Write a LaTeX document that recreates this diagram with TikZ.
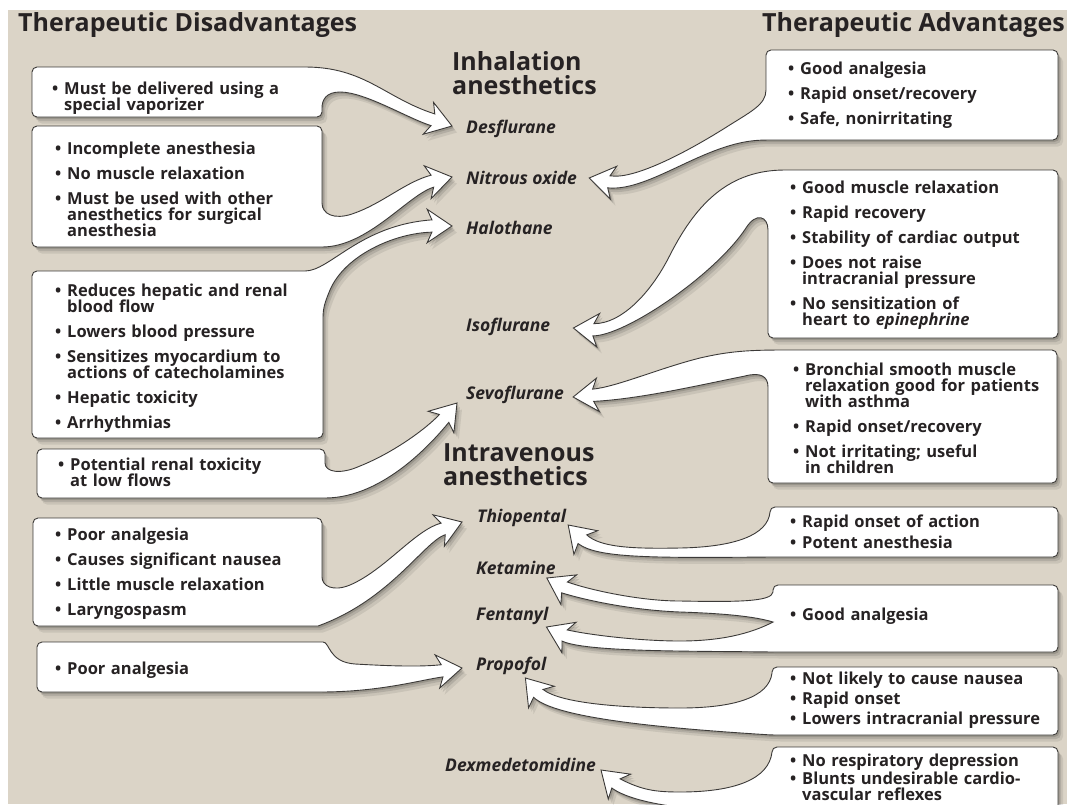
\documentclass[tikz,border=0pt]{standalone}
\usepackage{fontspec}
\setmainfont{Open Sans}
\usetikzlibrary{calc}
\definecolor{beige}{RGB}{219,212,199}
\definecolor{ink}{RGB}{38,34,35}
\definecolor{rim}{RGB}{60,58,56}
\newcommand\boxfont{\fontsize{16.5}{16}\selectfont\bfseries\lineskiplimit=-20pt}
\newcommand\drugfont{\fontsize{17.5}{18}\selectfont\bfseries\itshape}
\newcommand\itm[1]{\par\hangindent=12pt\hangafter=1\noindent\makebox[12pt][l]{\textbullet}#1\par}
\pgfdeclarelayer{back}
\pgfdeclarelayer{panels}
\pgfsetlayers{back,panels,main}

\begin{document}
\begin{tikzpicture}[x=1pt, y=-1pt,
  dis/.style={anchor=west, text width=280pt, align=left, inner sep=0pt, font=\boxfont, text=ink, gap=9pt},
  gap/.style={execute at begin node={\setlength{\parskip}{#1}}},
  drug/.style={anchor=west, inner sep=0pt, font=\drugfont, text=ink},
  coltitle/.style={inner sep=0pt, font=\fontsize{25}{28}\selectfont\bfseries, text=ink},
  grouptitle/.style={anchor=west, align=left, inner sep=0pt, font=\fontsize{25}{24}\selectfont\bfseries, text=ink},
  panel/.style={fill=white, draw=rim, line width=0.9pt,
    preaction={fill=black, opacity=.14, transform canvas={shift={(1.5pt,-2pt)}}},
    preaction={fill=black, opacity=.11, transform canvas={shift={(3pt,-4pt)}}},
    preaction={fill=black, opacity=.08, transform canvas={shift={(5pt,-6.5pt)}}}},
  fathead/.style 2 args={insert path={-- ($(#1)+({#2+214}:30)$) -- (#1) -- ($(#1)+({#2+146}:30)$) -- ($(#1)+({#2+163}:21)$)}}
]
\useasboundingbox (0,0) rectangle (1067,804);
\begin{pgfonlayer}{back}
  \fill[beige] (0,0) rectangle (1067,804);
  \fill[white] (0,0) rectangle (1067,10);
  \fill[white] (0,10) rectangle (8,804);
\end{pgfonlayer}

% headings
\node[coltitle, anchor=west] (hdis) at (18,25) {Therapeutic Disadvantages};
\node[coltitle, anchor=east] (hadv) at (1065,25) {Therapeutic Advantages};
\node[grouptitle] (inh) at (452,73.5) {Inhalation\\anesthetics};
\node[grouptitle] (intra) at (443,465) {Intravenous\\anesthetics};

% drugs
\node[drug] (des) at (466,129) {Desflurane};
\node[drug] (nit) at (466,178) {Nitrous oxide};
\node[drug] (hal) at (466,228) {Halothane};
\node[drug] (iso) at (466,327) {Isoflurane};
\node[drug] (sev) at (466,395) {Sevoflurane};
\node[drug] (thio) at (477,518) {Thiopental};
\node[drug] (ket) at (476,568) {Ketamine};
\node[drug] (fen) at (476,616) {Fentanyl};
\node[drug] (prop) at (476,666) {Propofol};
\node[drug] (dex) at (445,765) {Dexmedetomidine};

% disadvantages
\node[dis] (d1) at (52,91.5) {\itm{Must be delivered using a\newline special vaporizer}};
\node[dis] (d2) at (55,183) {\itm{Incomplete anesthesia}\itm{No muscle relaxation}\itm{Must be used with other\newline anesthetics for surgical\newline anesthesia}};
\node[dis] (d3) at (55,352) {\itm{Reduces hepatic and renal\newline blood flow}\itm{Lowers blood pressure}\itm{Sensitizes myocardium to\newline actions of catecholamines}\itm{Hepatic toxicity}\itm{Arrhythmias}};
\node[dis] (d4) at (58,466) {\itm{Potential renal toxicity\newline at low flows}};
\node[dis] (d5) at (55,567) {\itm{Poor analgesia}\itm{Causes significant nausea}\itm{Little muscle relaxation}\itm{Laryngospasm}};
\node[dis] (d6) at (55,664) {\itm{Poor analgesia}};

% advantages
\node[dis] (a1) at (788,89) {\itm{Good analgesia}\itm{Rapid onset/recovery}\itm{Safe, nonirritating}};
\node[dis] (a2) at (790,249) {\itm{Good muscle relaxation}\itm{Rapid recovery}\itm{Stability of cardiac output}\itm{Does not raise\newline intracranial pressure}\itm{No sensitization of\newline heart to \textit{epinephrine}}};
\node[dis] (a3) at (793,412) {\itm{Bronchial smooth muscle\newline relaxation good for patients\newline with asthma}\itm{Rapid onset/recovery}\itm{Not irritating; useful\newline in children}};
\node[dis, gap=5pt] (a4) at (790,528) {\itm{Rapid onset of action}\itm{Potent anesthesia}};
\node[dis] (a5) at (790,610) {\itm{Good analgesia}};
\node[dis, gap=4pt] (a6) at (790,696.5) {\itm{Not likely to cause nausea}\itm{Rapid onset}\itm{Lowers intracranial pressure}};
\node[dis, gap=1.5pt] (a7) at (790,775) {\itm{No respiratory depression}\itm{Blunts undesirable cardio-\newline vascular reflexes}};

% arrow tips
\coordinate (tDes) at ($(des.west)+(-14,-3)$);
\coordinate (tNitL) at ($(nit.west)+(-14,-1)$);
\coordinate (tHal) at ($(hal.west)+(-14,-2)$);
\coordinate (tSevL) at ($(sev.west)+(-9,8)$);
\coordinate (tThioL) at ($(thio.west)+(-15,4)$);
\coordinate (tPropL) at ($(prop.west)+(-14,2)$);
\coordinate (tNitR) at ($(nit.east)+(12,0)$);
\coordinate (tIso) at ($(iso.east)+(23,1)$);
\coordinate (tSevR) at ($(sev.east)+(9,2)$);
\coordinate (tThioR) at ($(thio.east)+(2,7)$);
\coordinate (tKet) at ($(ket.east)+(-9,10)$);
\coordinate (tFen) at ($(fen.east)+(-2,11)$);
\coordinate (tPropR) at ($(prop.east)+(-21,12)$);
\coordinate (tDex) at ($(dex.east)+(5,5)$);

\begin{pgfonlayer}{panels}
% left panels
\draw[panel] (32,92) [rounded corners=5pt] |- (300,67) [sharp corners] .. controls (365,67) and (385,98) .. ($(tDes)+(215:21)$) [fathead={tDes}{18}] .. controls (407,118) and (365,92) .. (340,92) .. controls (326,92) and (322,100) .. (322,108) [rounded corners=5pt] |- (32,117) -- cycle;
\draw[panel] (32,186) [rounded corners=5pt] |- (322,126) -- (322,198) [sharp corners] .. controls (322,214) and (334,220) .. (352,214) .. controls (382,204) and (405,182) .. ($(tNitL)+(185:21)$) [fathead={tNitL}{-12}] .. controls (408,195) and (368,247) .. (322,247) [rounded corners=5pt] -- (32,247) -- cycle;
\draw[panel] (32,350) [rounded corners=5pt] |- (300,271) [sharp corners] .. controls (330,271) and (360,225) .. ($(tHal)+(197:21)$) [fathead={tHal}{0}] .. controls (395,233) and (345,255) .. (330,290) .. controls (325,302) and (323,308) .. (323,318) [rounded corners=5pt] |- (32,438) -- cycle;
\draw[panel] (37,473) [rounded corners=5pt] |- (325,449) -- (325,458) [sharp corners] .. controls (325,472) and (340,475) .. (360,466) .. controls (395,452) and (428,427) .. ($(tSevL)+(147:21)$) [fathead={tSevL}{-50}] .. controls (436,438) and (385,498) .. (325,498) [rounded corners=5pt] -- (37,498) -- cycle;
\draw[panel] (33,572) [rounded corners=5pt] |- (322,518) -- (322,572) [sharp corners] .. controls (322,586) and (333,592) .. (350,585) .. controls (385,570) and (415,530) .. ($(tThioL)+(177:21)$) [fathead={tThioL}{-20}] .. controls (424,542) and (390,600) .. (318,626) [rounded corners=5pt] -- (33,626) -- cycle;
\draw[panel] (37,667) [rounded corners=5pt] |- (318,642) [sharp corners] .. controls (330,642) and (328,662) .. (355,664) .. controls (390,666) and (420,667) .. ($(tPropL)+(189:21)$) [fathead={tPropL}{-8}] .. controls (420,680) and (380,692) .. (320,692) [rounded corners=5pt] -- (37,692) -- cycle;
% right panels
\draw[panel] (1058,95) [rounded corners=5pt] |- (766,140) [sharp corners] .. controls (705,142) and (650,192) .. ($(tNitR)+(28:21)$) [fathead={tNitR}{191}] .. controls (635,180) and (690,150) .. (725,128) .. controls (750,112) and (766,105) .. (766,90) [rounded corners=5pt] |- (1058,50) -- cycle;
\draw[panel] (1058,250) [rounded corners=5pt] |- (768,338) -- (768,235) [sharp corners] .. controls (768,216) and (756,212) .. (746,228) .. controls (715,275) and (625,336) .. ($(tIso)+(22:21)$) [fathead={tIso}{185}] .. controls (620,324) and (650,295) .. (670,255) .. controls (697,202) and (730,170) .. (785,170) [rounded corners=5pt] -- (1058,170) -- cycle;
\draw[panel] (1057,416) [rounded corners=5pt] |- (768,483) -- (768,392) [sharp corners] .. controls (768,376) and (760,372) .. (745,376) .. controls (700,385) and (640,399) .. ($(tSevR)+(12:21)$) [fathead={tSevR}{175}] .. controls (616,387) and (660,368) .. (700,358) .. controls (730,351) and (750,350) .. (785,350) [rounded corners=5pt] -- (1057,350) -- cycle;
\draw[panel] (1058,532) [rounded corners=5pt] |- (770,557) [sharp corners] .. controls (650,558) and (597,558) .. ($(tThioR)+(62:21)$) [fathead={tThioR}{225}] .. controls (600,547) and (630,549) .. (680,548) .. controls (735,547) and (768,535) .. (770,512) [rounded corners=5pt] |- (1058,507) -- cycle;
\draw[panel] (1058,618) [rounded corners=5pt] |- (773,652) [sharp corners] .. controls (690,651) and (585,652) .. ($(tFen)+(42:21)$) [fathead={tFen}{205}] .. controls (590,635) and (640,641) .. (680,641) .. controls (720,641) and (750,634) .. (773,622) .. controls (750,615) and (710,613) .. (680,612) .. controls (630,610) and (585,600) .. ($(tKet)+(45:21)$) [fathead={tKet}{208}] .. controls (590,590) and (640,601) .. (680,601) .. controls (735,602) and (772,602) .. (773,592) [rounded corners=5pt] |- (1058,585) -- cycle;
\draw[panel] (1058,700) [rounded corners=5pt] |- (772,735) [sharp corners] .. controls (660,728) and (555,718) .. ($(tPropR)+(67:21)$) [fathead={tPropR}{230}] .. controls (560,703) and (620,708) .. (680,708) .. controls (735,708) and (769,697) .. (772,673) [rounded corners=5pt] |- (1058,667) -- cycle;
\draw[panel] (1058,780) [rounded corners=5pt] |- (772,812) [sharp corners] .. controls (700,812) and (635,805) .. ($(tDex)+(59:21)$) [fathead={tDex}{222}] .. controls (642,790) and (655,792) .. (680,792) .. controls (735,792) and (769,779) .. (772,752) [rounded corners=5pt] |- (1058,747) -- cycle;
\end{pgfonlayer}
\end{tikzpicture}
\end{document}
